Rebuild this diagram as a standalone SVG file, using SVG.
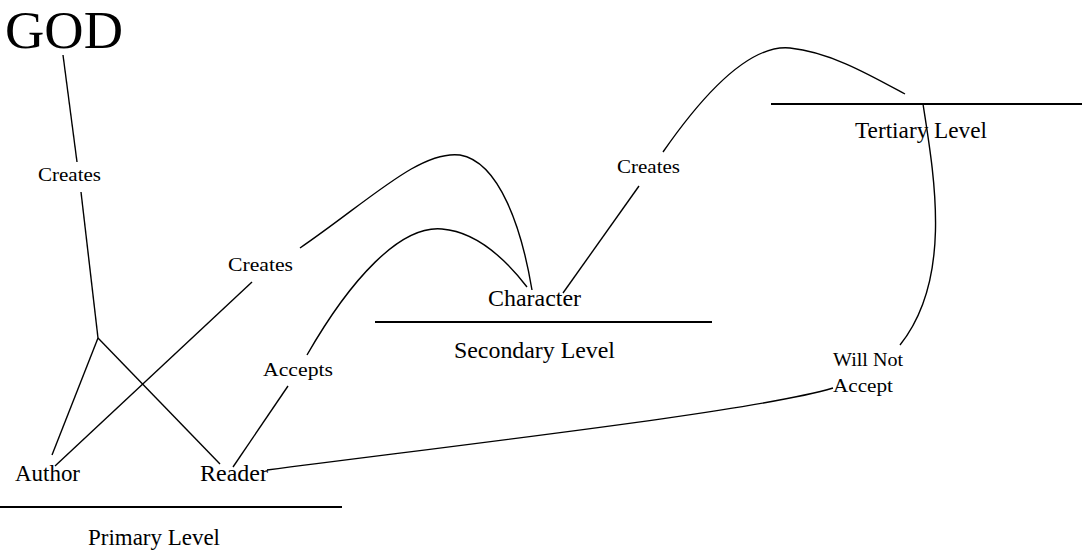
<svg xmlns="http://www.w3.org/2000/svg" width="1082" height="557" viewBox="0 0 1082 557">
<style>
text{font-family:"Liberation Serif","Times New Roman",serif;fill:#000}
.big{font-size:24px}
.lbl{font-size:19px}
.edge{fill:none;stroke:#000;stroke-width:1.4}
.lvl{stroke:#000;stroke-width:2}
</style>
<rect width="1082" height="557" fill="#fff"/>
<g id="connectors">
<path class="edge" d="M63,55 L77,162"/>
<path class="edge" d="M81,192 L98,338"/>
<path class="edge" d="M98,338 L52,455"/>
<path class="edge" d="M98,338 L220,464"/>
<path class="edge" d="M55,466 L252,282"/>
<path class="edge" d="M300,248 C370,200 420,150 460,155 C500,162 522,230 532,290"/>
<path class="edge" d="M233,467 L288,386"/>
<path class="edge" d="M307,355 C350,280 400,225 442,229 C480,232 510,265 527,287"/>
<path class="edge" d="M563,293 L639,186"/>
<path class="edge" d="M663,152 C720,70 760,45 790,48 C830,52 870,75 905,94"/>
<path class="edge" d="M923,104 C935,180 952,280 900,345"/>
<path class="edge" d="M833,388 C760,410 500,440 267,470"/>
</g>
<g id="god"><text x="5" y="48" font-size="53" textLength="118" lengthAdjust="spacingAndGlyphs">GOD</text></g>
<g id="author"><text class="big" x="15" y="481" textLength="65" lengthAdjust="spacingAndGlyphs">Author</text></g>
<g id="reader"><text class="big" x="200" y="481" textLength="68" lengthAdjust="spacingAndGlyphs">Reader</text></g>
<g id="character"><text class="big" x="488" y="306" textLength="93" lengthAdjust="spacingAndGlyphs">Character</text></g>
<g id="primary-level">
<line class="lvl" x1="0" y1="507" x2="342" y2="507"/>
<text class="big" x="88" y="545" textLength="132" lengthAdjust="spacingAndGlyphs">Primary Level</text>
</g>
<g id="secondary-level">
<line class="lvl" x1="375" y1="322" x2="712" y2="322"/>
<text class="big" x="454" y="358" textLength="161" lengthAdjust="spacingAndGlyphs">Secondary Level</text>
</g>
<g id="tertiary-level">
<line class="lvl" x1="771" y1="104" x2="1082" y2="104"/>
<text class="big" x="855" y="138" textLength="132" lengthAdjust="spacingAndGlyphs">Tertiary Level</text>
</g>
<g id="labels">
<text class="lbl" x="38" y="181" textLength="63" lengthAdjust="spacingAndGlyphs">Creates</text>
<text class="lbl" x="228" y="271" textLength="65" lengthAdjust="spacingAndGlyphs">Creates</text>
<text class="lbl" x="263" y="376" textLength="70" lengthAdjust="spacingAndGlyphs">Accepts</text>
<text class="lbl" x="617" y="173" textLength="63" lengthAdjust="spacingAndGlyphs">Creates</text>
<text class="lbl" x="833" y="366" textLength="70" lengthAdjust="spacingAndGlyphs">Will Not</text>
<text class="lbl" x="833" y="392" textLength="60" lengthAdjust="spacingAndGlyphs">Accept</text>
</g>
</svg>
